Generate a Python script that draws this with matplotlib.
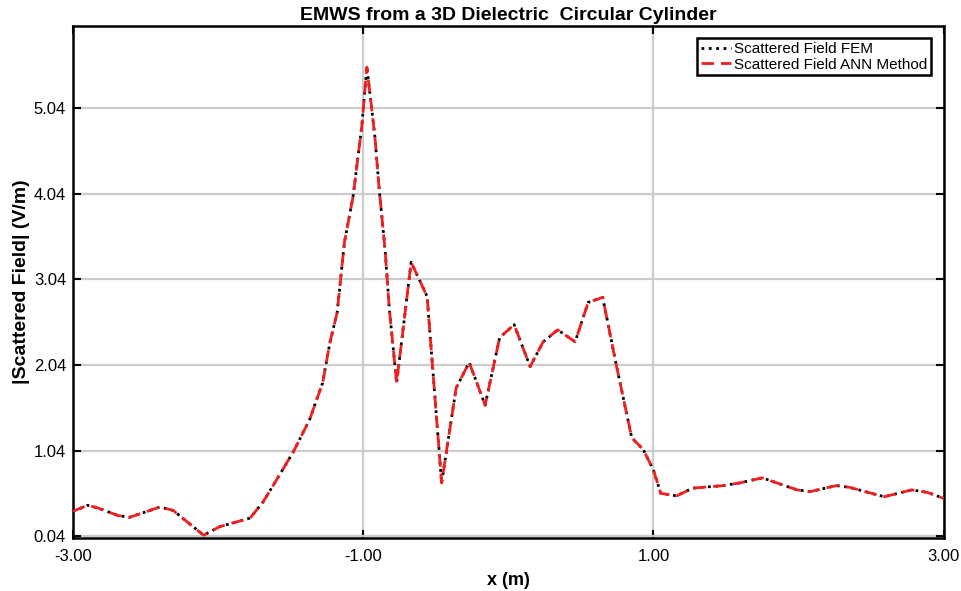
import numpy as np
import matplotlib.pyplot as plt

plt.rcParams['font.family'] = ['Liberation Sans', 'DejaVu Sans']

# vertices of the scattered field curve
x_m = [-3.00, -2.90, -2.83, -2.69, -2.61, -2.40, -2.31, -2.10, -1.99, -1.78,
       -1.69, -1.60, -1.48, -1.37, -1.28, -1.23, -1.18, -1.13, -1.07, -1.01,
       -0.975, -0.92, -0.89, -0.85, -0.82, -0.77, -0.67, -0.56, -0.46, -0.36,
       -0.27, -0.16, -0.06, 0.04, 0.15, 0.24, 0.34, 0.46, 0.55, 0.65,
       0.74, 0.85, 0.93, 1.00, 1.05, 1.16, 1.27, 1.48, 1.59, 1.75,
       1.99, 2.08, 2.26, 2.35, 2.59, 2.78, 2.89, 3.00]
field_fem = [0.33, 0.40, 0.37, 0.28, 0.26, 0.38, 0.34, 0.05, 0.15, 0.25,
             0.44, 0.69, 1.03, 1.40, 1.83, 2.30, 2.65, 3.47, 4.01, 4.83,
             5.52, 4.71, 4.09, 3.39, 2.69, 1.83, 3.24, 2.84, 0.66, 1.77,
             2.07, 1.57, 2.36, 2.51, 2.02, 2.31, 2.45, 2.31, 2.77, 2.83,
             2.07, 1.19, 1.05, 0.81, 0.54, 0.51, 0.60, 0.63, 0.66, 0.72,
             0.58, 0.56, 0.63, 0.61, 0.50, 0.58, 0.55, 0.48]
field_ann = list(field_fem)

yticks = [0.04, 1.04, 2.04, 3.04, 4.04, 5.04]
xticks = [-3, -1, 1, 3]

fig = plt.figure(figsize=(9.61, 5.91), dpi=100)
ax = fig.add_axes([0.076, 0.09, 0.906, 0.866])

ax.plot(x_m, field_fem, color='black', linestyle=':', linewidth=2,
        label='Scattered Field FEM', zorder=3)
ax.plot(x_m, field_ann, color='#f02020', linestyle=(0, (4.5, 2.5)),
        linewidth=2, label='Scattered Field ANN Method', zorder=4)

ax.set_xlim(-3, 3)
ax.set_ylim(0.02, 6.0)
ax.set_xticks(xticks)
ax.set_xticklabels(['%.2f' % v for v in xticks])
ax.set_yticks(yticks)
ax.set_yticklabels(['%.2f' % v for v in yticks])
ax.grid(True, color='#cccccc', linewidth=1.6, zorder=0)
ax.set_axisbelow(True)

ax.tick_params(direction='in', length=6, width=1.5, labelsize=12,
               top=True, right=True, pad=5)
ax.tick_params(axis='x', pad=8)
for s in ax.spines.values():
    s.set_linewidth(1.8)

ax.set_title('EMWS from a 3D Dielectric  Circular Cylinder',
             fontsize=14, fontweight='bold', pad=4)
ax.set_xlabel('x (m)', fontsize=13, fontweight='bold', labelpad=6)
ax.set_ylabel('|Scattered Field| (V/m)', fontsize=14, fontweight='bold',
              labelpad=3)

leg = ax.legend(loc='upper right', fontsize=11, handlelength=2.0,
                handletextpad=0.2, borderpad=0.25, labelspacing=0.1,
                fancybox=False, framealpha=1, borderaxespad=0.8)
leg.get_frame().set_edgecolor('black')
leg.get_frame().set_linewidth(1.8)

fig.savefig('out.png', dpi=100)
